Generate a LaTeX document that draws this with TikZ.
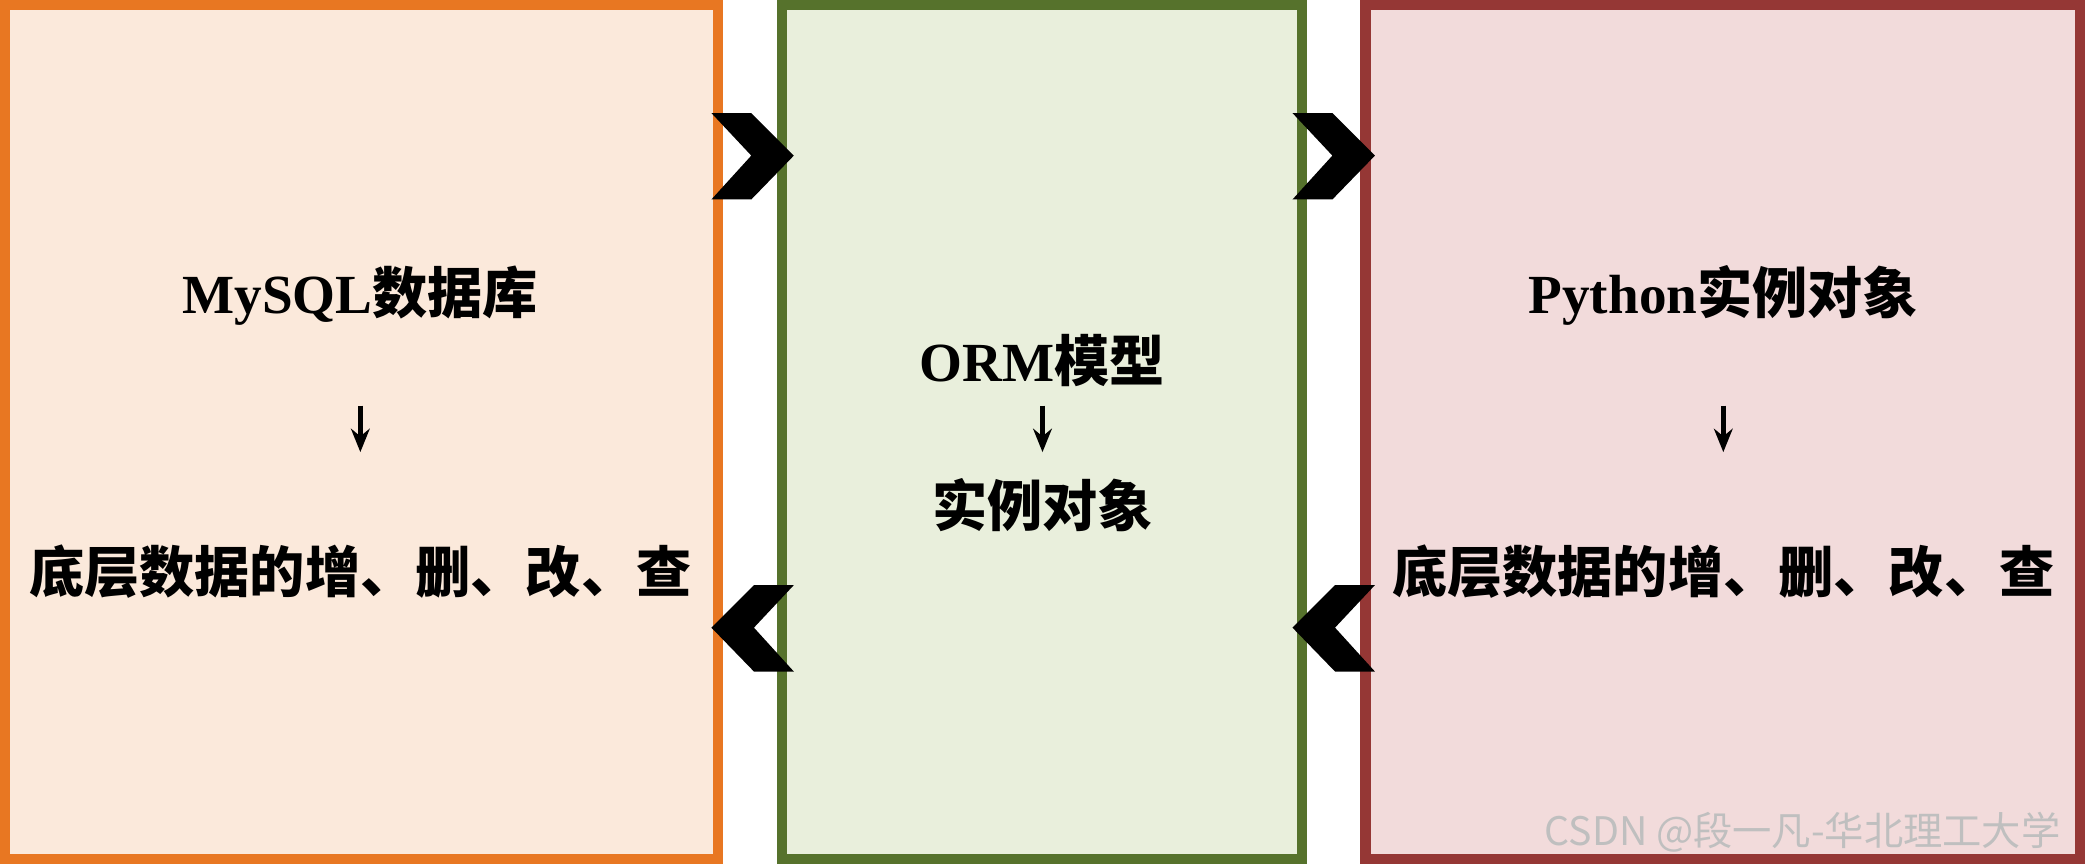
\documentclass[tikz,border=0pt]{standalone}
\usepackage{fontspec}
\usetikzlibrary{arrows.meta}
\setmainfont{Liberation Serif}
\newfontfamily\cjk{Noto Sans CJK SC}
\begin{document}
\begin{tikzpicture}[x=0.01cm,y=-0.01cm,
  panel/.style={line width=2.2pt},
  lbl/.style={font=\bfseries\fontsize{11.8}{14}\selectfont},
  chev/.style={fill=black},
  down/.style={-{Stealth[length=5pt,width=4pt]},line width=1.2pt}]
\definecolor{lf}{HTML}{FBE9DB}\definecolor{ld}{HTML}{E87722}
\definecolor{mf}{HTML}{E9EFDC}\definecolor{md}{HTML}{56722C}
\definecolor{rf}{HTML}{F2DBDB}\definecolor{rd}{HTML}{953735}
\useasboundingbox (0,0) rectangle (1568,650);
\draw[panel,fill=lf,draw=ld] (4,4) rectangle (540,646);
\draw[panel,fill=mf,draw=md] (588,4) rectangle (979,646);
\draw[panel,fill=rf,draw=rd] (1027,4) rectangle (1564,646);
% chevrons
\fill[chev] (535,85)--(565,85)--(597,117)--(565,150)--(535,150)--(565,117)--cycle;
\fill[chev] (972,85)--(1002,85)--(1034,117)--(1002,150)--(972,150)--(1002,117)--cycle;
\fill[chev] (597,440)--(567,440)--(535,472)--(567,505)--(597,505)--(567,472)--cycle;
\fill[chev] (1034,440)--(1004,440)--(972,472)--(1004,505)--(1034,505)--(1004,472)--cycle;
% texts
\node[lbl] (l1) at (271,222) {MySQL{\cjk 数据库}};
\node[lbl] (l2) at (271,430) {\cjk 底层数据的增、删、改、查};
\node[lbl] (m1) at (784,271) {ORM{\cjk 模型}};
\node[lbl] (m2) at (784,380) {\cjk 实例对象};
\node[lbl] (r1) at (1296,222) {Python{\cjk 实例对象}};
\node[lbl] (r2) at (1296,430) {\cjk 底层数据的增、删、改、查};
\coordinate (la) at (271,305); \coordinate (lb) at (271,340);
\coordinate (ma) at (784,305); \coordinate (mb) at (784,340);
\coordinate (ra) at (1296,305); \coordinate (rb) at (1296,340);
\draw[down] (la)--(lb); \draw[down] (ma)--(mb); \draw[down] (ra)--(rb);
\node[text=black!25,font=\cjk\fontsize{8.4}{10}\selectfont,anchor=east] (wm) at (1562,626) {CSDN @段一凡-华北理工大学};
\end{tikzpicture}
\end{document}
